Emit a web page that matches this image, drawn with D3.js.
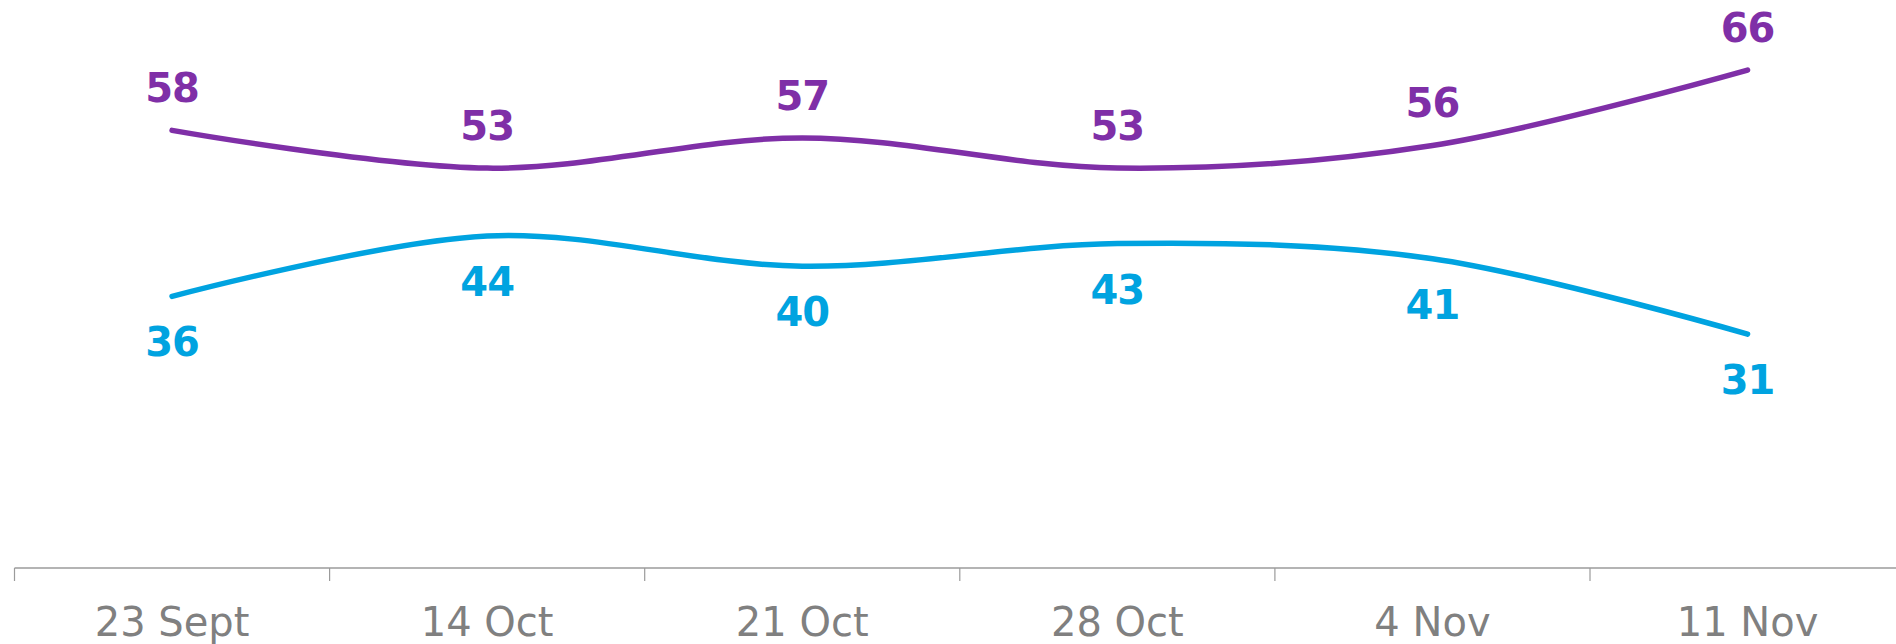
<!DOCTYPE html>
<html>
<head>
<meta charset="utf-8">
<script src="https://cdn.jsdelivr.net/npm/d3@7"></script>
<style>
  html, body { margin: 0; padding: 0; background: #ffffff; }
  svg { display: block; }
</style>
</head>
<body>
<svg id="chart" width="1896" height="644"></svg>
<script>
const categories = ["23 Sept", "14 Oct", "21 Oct", "28 Oct", "4 Nov", "11 Nov"];
const purpleValues = [58, 53, 57, 53, 56, 66];
const blueValues = [36, 44, 40, 43, 41, 31];

const W = 1896, H = 644;
const svg = d3.select("#chart");

const bandW = 315.1;
const x0 = 14.5;
const x = d3.scaleBand().domain(categories).range([x0, x0 + bandW * categories.length]).padding(0);
const y = d3.scaleLinear().domain([0, 75]).range([568, 568 - 75 * 7.545]);

const cx = d => x(d) + x.bandwidth() / 2;

// axis line
const axisY = y(0);
svg.append("line")
  .attr("x1", x0).attr("x2", W)
  .attr("y1", axisY).attr("y2", axisY)
  .attr("stroke", "#9b9b9b").attr("stroke-width", 1.5);

// tick marks at band boundaries
svg.selectAll(".tick").data(categories).enter().append("line")
  .attr("x1", d => x(d)).attr("x2", d => x(d))
  .attr("y1", axisY).attr("y2", axisY + 13)
  .attr("stroke", "#9b9b9b").attr("stroke-width", 1.2);

// tick labels
svg.selectAll(".tlabel").data(categories).enter().append("text")
  .attr("x", d => cx(d))
  .attr("y", axisY + 68)
  .attr("text-anchor", "middle")
  .attr("font-family", "'DejaVu Sans', sans-serif")
  .attr("font-size", 40)
  .attr("fill", "#808080")
  .text(d => d);

const line = d3.line()
  .x((d, i) => cx(categories[i]))
  .y(d => y(d))
  .curve(d3.curveCardinal.tension(0));

const series = [
  { values: purpleValues, color: "#7F2FA7", above: true },
  { values: blueValues, color: "#00A3E0", above: false }
];

series.forEach(s => {
  svg.append("path")
    .datum(s.values)
    .attr("d", line)
    .attr("fill", "none")
    .attr("stroke", s.color)
    .attr("stroke-width", 5.5)
    .attr("stroke-linecap", "round");

  svg.selectAll(null).data(s.values).enter().append("text")
    .attr("x", (d, i) => cx(categories[i]))
    .attr("y", d => s.above ? y(d) - 28 : y(d) + 60)
    .attr("text-anchor", "middle")
    .attr("font-family", "'DejaVu Sans', sans-serif")
    .attr("font-weight", "bold")
    .attr("font-size", 40)
    .attr("letter-spacing", -1)
    .attr("fill", s.color)
    .text(d => d);
});
</script>
</body>
</html>
